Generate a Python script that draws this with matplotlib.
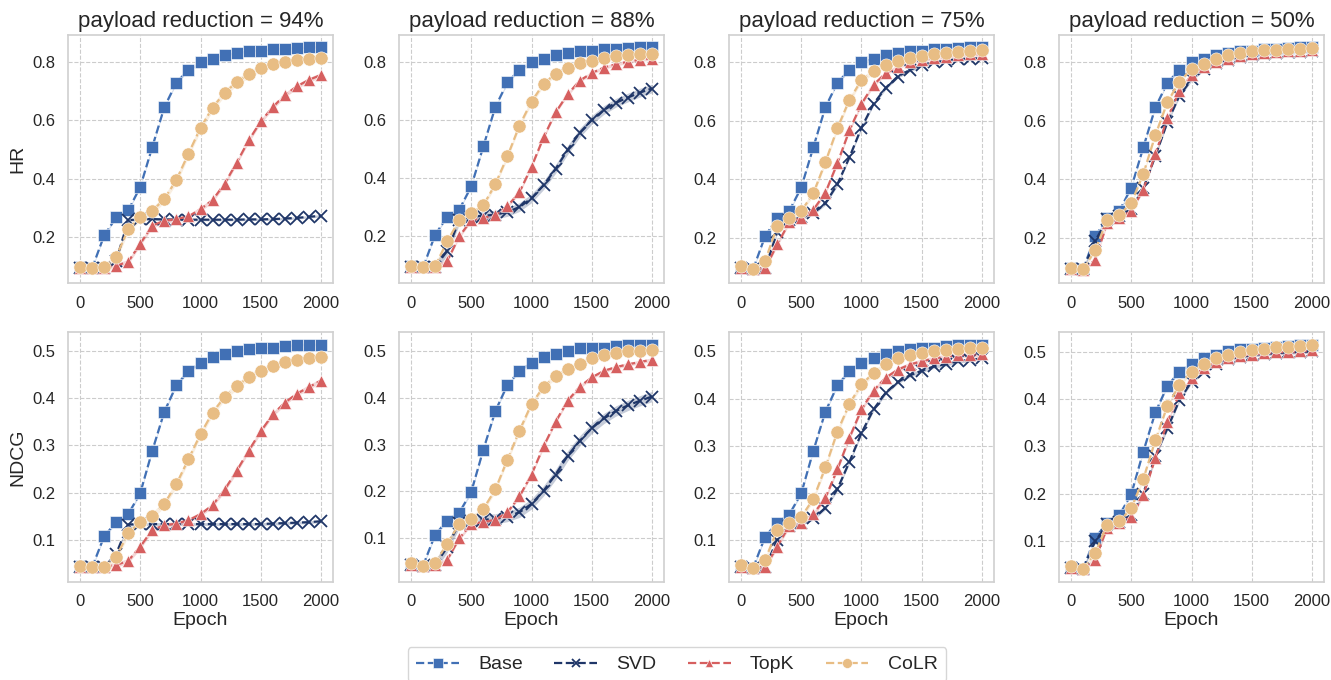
import matplotlib
matplotlib.use("Agg")
import matplotlib.pyplot as plt
import seaborn as sns
import numpy as np

sns.set_theme(style="whitegrid")
plt.rcParams['font.family'] = ['Liberation Sans', 'DejaVu Sans']

epochs = list(range(0, 2001, 100))
reductions = ["94%", "88%", "75%", "50%"]
methods = ["Base", "SVD", "TopK", "CoLR"]

# ---------------- HR ----------------
hr_base = [0.099, 0.094, 0.206, 0.268, 0.292, 0.372, 0.509, 0.645, 0.729, 0.772, 0.798,
           0.811, 0.822, 0.829, 0.836, 0.838, 0.843, 0.845, 0.846, 0.849, 0.849]

hr_svd_94 = [0.096, 0.094, 0.096, 0.120, 0.258, 0.262, 0.262, 0.261, 0.260, 0.260, 0.260,
             0.260, 0.260, 0.260, 0.261, 0.261, 0.262, 0.264, 0.266, 0.270, 0.273]
hr_topk_94 = [0.096, 0.094, 0.096, 0.103, 0.116, 0.178, 0.240, 0.256, 0.262, 0.271, 0.296,
              0.327, 0.383, 0.455, 0.531, 0.596, 0.645, 0.686, 0.716, 0.738, 0.755]
hr_colr_94 = [0.099, 0.094, 0.097, 0.133, 0.228, 0.268, 0.290, 0.331, 0.396, 0.486, 0.574,
              0.643, 0.694, 0.730, 0.757, 0.778, 0.791, 0.800, 0.806, 0.811, 0.813]

hr_svd_88 = [0.096, 0.094, 0.096, 0.150, 0.256, 0.268, 0.271, 0.275, 0.284, 0.301, 0.331,
             0.376, 0.432, 0.497, 0.556, 0.600, 0.634, 0.659, 0.677, 0.694, 0.708]
hr_topk_88 = [0.096, 0.094, 0.096, 0.116, 0.200, 0.256, 0.264, 0.273, 0.304, 0.352, 0.439,
              0.540, 0.626, 0.688, 0.735, 0.761, 0.780, 0.791, 0.800, 0.807, 0.811]
hr_colr_88 = [0.099, 0.094, 0.099, 0.183, 0.256, 0.279, 0.307, 0.380, 0.475, 0.581, 0.663,
              0.724, 0.759, 0.780, 0.794, 0.804, 0.813, 0.818, 0.822, 0.825, 0.827]

hr_svd_75 = [0.096, 0.094, 0.096, 0.220, 0.260, 0.270, 0.284, 0.318, 0.383, 0.475, 0.576,
             0.657, 0.711, 0.750, 0.772, 0.789, 0.798, 0.804, 0.809, 0.811, 0.813]
hr_topk_75 = [0.096, 0.094, 0.096, 0.178, 0.253, 0.268, 0.296, 0.354, 0.455, 0.567, 0.657,
              0.722, 0.761, 0.783, 0.798, 0.807, 0.813, 0.818, 0.822, 0.825, 0.827]
hr_colr_75 = [0.103, 0.094, 0.122, 0.240, 0.268, 0.292, 0.352, 0.458, 0.574, 0.671, 0.738,
              0.769, 0.789, 0.802, 0.813, 0.820, 0.827, 0.831, 0.834, 0.837, 0.839]

hr_svd_50 = [0.096, 0.094, 0.190, 0.265, 0.275, 0.300, 0.370, 0.480, 0.595, 0.685, 0.740,
             0.775, 0.795, 0.808, 0.817, 0.823, 0.828, 0.831, 0.833, 0.835, 0.836]
hr_topk_50 = [0.096, 0.092, 0.127, 0.251, 0.268, 0.293, 0.365, 0.486, 0.609, 0.701, 0.755,
              0.783, 0.800, 0.811, 0.820, 0.827, 0.831, 0.834, 0.836, 0.838, 0.839]
hr_colr_50 = [0.099, 0.094, 0.159, 0.262, 0.279, 0.320, 0.419, 0.551, 0.663, 0.733, 0.775,
              0.794, 0.811, 0.822, 0.830, 0.836, 0.839, 0.841, 0.843, 0.845, 0.846]

# ---------------- NDCG ----------------
ndcg_base = [0.044, 0.041, 0.107, 0.137, 0.154, 0.199, 0.289, 0.372, 0.428, 0.458, 0.475,
             0.487, 0.494, 0.501, 0.506, 0.507, 0.508, 0.511, 0.513, 0.514, 0.514]

ndcg_svd_94 = [0.042, 0.041, 0.042, 0.070, 0.132, 0.133, 0.133, 0.133, 0.133, 0.133, 0.133,
               0.133, 0.133, 0.133, 0.133, 0.133, 0.134, 0.135, 0.136, 0.137, 0.139]
ndcg_topk_94 = [0.042, 0.041, 0.042, 0.046, 0.055, 0.085, 0.121, 0.130, 0.134, 0.141, 0.154,
                0.173, 0.206, 0.246, 0.289, 0.330, 0.366, 0.391, 0.410, 0.424, 0.438]
ndcg_colr_94 = [0.044, 0.041, 0.042, 0.063, 0.114, 0.137, 0.151, 0.176, 0.218, 0.271, 0.324,
                0.370, 0.403, 0.426, 0.445, 0.459, 0.468, 0.477, 0.482, 0.486, 0.487]

ndcg_svd_88 = [0.042, 0.041, 0.042, 0.080, 0.132, 0.137, 0.139, 0.141, 0.146, 0.155, 0.173,
               0.201, 0.236, 0.276, 0.308, 0.335, 0.356, 0.372, 0.384, 0.394, 0.403]
ndcg_topk_88 = [0.042, 0.041, 0.042, 0.053, 0.099, 0.130, 0.134, 0.139, 0.155, 0.189, 0.236,
                0.296, 0.349, 0.394, 0.424, 0.444, 0.458, 0.466, 0.472, 0.477, 0.482]
ndcg_colr_88 = [0.046, 0.041, 0.046, 0.088, 0.130, 0.141, 0.162, 0.204, 0.268, 0.330, 0.387,
                0.424, 0.447, 0.461, 0.473, 0.485, 0.492, 0.496, 0.500, 0.501, 0.503]

ndcg_svd_75 = [0.042, 0.041, 0.042, 0.100, 0.130, 0.135, 0.146, 0.168, 0.208, 0.266, 0.327,
               0.377, 0.412, 0.435, 0.449, 0.459, 0.468, 0.473, 0.479, 0.482, 0.485]
ndcg_topk_75 = [0.042, 0.041, 0.042, 0.086, 0.130, 0.135, 0.155, 0.189, 0.250, 0.317, 0.377,
                0.417, 0.444, 0.461, 0.472, 0.479, 0.485, 0.489, 0.492, 0.493, 0.494]
ndcg_colr_75 = [0.046, 0.041, 0.058, 0.121, 0.137, 0.149, 0.187, 0.254, 0.330, 0.389, 0.430,
                0.454, 0.473, 0.485, 0.492, 0.496, 0.500, 0.503, 0.506, 0.507, 0.508]

ndcg_svd_50 = [0.042, 0.041, 0.099, 0.135, 0.140, 0.155, 0.200, 0.280, 0.338, 0.398, 0.437,
               0.458, 0.475, 0.485, 0.489, 0.493, 0.496, 0.497, 0.499, 0.500, 0.501]
ndcg_topk_50 = [0.042, 0.041, 0.060, 0.128, 0.137, 0.151, 0.197, 0.275, 0.352, 0.412, 0.444,
                0.466, 0.479, 0.486, 0.492, 0.494, 0.497, 0.499, 0.500, 0.501, 0.503]
ndcg_colr_50 = [0.046, 0.041, 0.074, 0.134, 0.141, 0.169, 0.231, 0.313, 0.386, 0.430, 0.458,
                0.475, 0.486, 0.494, 0.500, 0.504, 0.507, 0.510, 0.511, 0.513, 0.514]

hr_data = {
    "94%": [hr_base, hr_svd_94, hr_topk_94, hr_colr_94],
    "88%": [hr_base, hr_svd_88, hr_topk_88, hr_colr_88],
    "75%": [hr_base, hr_svd_75, hr_topk_75, hr_colr_75],
    "50%": [hr_base, hr_svd_50, hr_topk_50, hr_colr_50],
}
ndcg_data = {
    "94%": [ndcg_base, ndcg_svd_94, ndcg_topk_94, ndcg_colr_94],
    "88%": [ndcg_base, ndcg_svd_88, ndcg_topk_88, ndcg_colr_88],
    "75%": [ndcg_base, ndcg_svd_75, ndcg_topk_75, ndcg_colr_75],
    "50%": [ndcg_base, ndcg_svd_50, ndcg_topk_50, ndcg_colr_50],
}

colors = ["#4170b5", "#1f3668", "#d65f5f", "#e8bd84"]
markers = ["s", "x", "^", "o"]
msizes = [9, 8, 8.5, 9.5]
band_hr = {"94%": [0.004, 0.004, 0.008, 0.012], "88%": [0.004, 0.015, 0.006, 0.009],
           "75%": [0.004, 0.006, 0.007, 0.009], "50%": [0.004, 0.006, 0.006, 0.006]}
band_ndcg = {"94%": [0.003, 0.003, 0.005, 0.007], "88%": [0.003, 0.011, 0.004, 0.006],
             "75%": [0.003, 0.004, 0.005, 0.006], "50%": [0.003, 0.004, 0.004, 0.004]}

W, H = 1331, 680
fig = plt.figure(figsize=(W / 100, H / 100), dpi=100)

lefts = [68, 399, 729, 1059]
aw = 265
rows = [(35, 283), (332, 582)]

handles = []
for r, (data, bands, ylab) in enumerate([(hr_data, band_hr, "HR"), (ndcg_data, band_ndcg, "NDCG")]):
    top, bot = rows[r]
    for c, red in enumerate(reductions):
        ax = fig.add_axes([lefts[c] / W, 1 - bot / H, aw / W, (bot - top) / H])
        for k, m in enumerate(methods):
            y = np.array(data[red][k])
            b = bands[red][k]
            ax.fill_between(epochs, y - b, y + b, color=colors[k], alpha=0.25, lw=0)
            kw = dict(color=colors[k], marker=markers[k], ms=msizes[k], lw=1.6,
                      linestyle=(0, (3.7, 1.6)), label=m)
            if markers[k] == "x":
                kw.update(mew=1.3)
            else:
                kw.update(mec="white", mew=0.4)
            ln, = ax.plot(epochs, y, **kw)
            if r == 0 and c == 0:
                handles.append(ln)
        ax.set_xticks([0, 500, 1000, 1500, 2000])
        ax.tick_params(axis="both", labelsize=12, pad=3)
        ax.grid(True, linestyle="--", color="#cccccc", lw=0.8)
        for s in ax.spines.values():
            s.set_color("#d0d0d0")
            s.set_linewidth(1.2)
        if r == 0:
            ax.set_title(f"payload reduction = {red}", fontsize=16, pad=6, color="#262626")
        else:
            ax.set_xlabel("Epoch", fontsize=14, labelpad=2, color="#262626")
        if c == 0:
            ax.set_ylabel(ylab, fontsize=14, color="#262626")
        if r == 1:
            ax.set_yticks([0.1, 0.2, 0.3, 0.4, 0.5])
        else:
            ax.set_yticks([0.2, 0.4, 0.6, 0.8])

leg = fig.legend(handles, methods, loc="upper center", bbox_to_anchor=(677 / W, 1 - 647 / H),
                 ncol=4, fontsize=14, frameon=True, handlelength=2.2, columnspacing=1.6,
                 handletextpad=1.0, borderpad=0.45, borderaxespad=0, markerscale=0.75)
leg.get_frame().set_edgecolor("#cccccc")

fig.savefig("out.png", dpi=100)
